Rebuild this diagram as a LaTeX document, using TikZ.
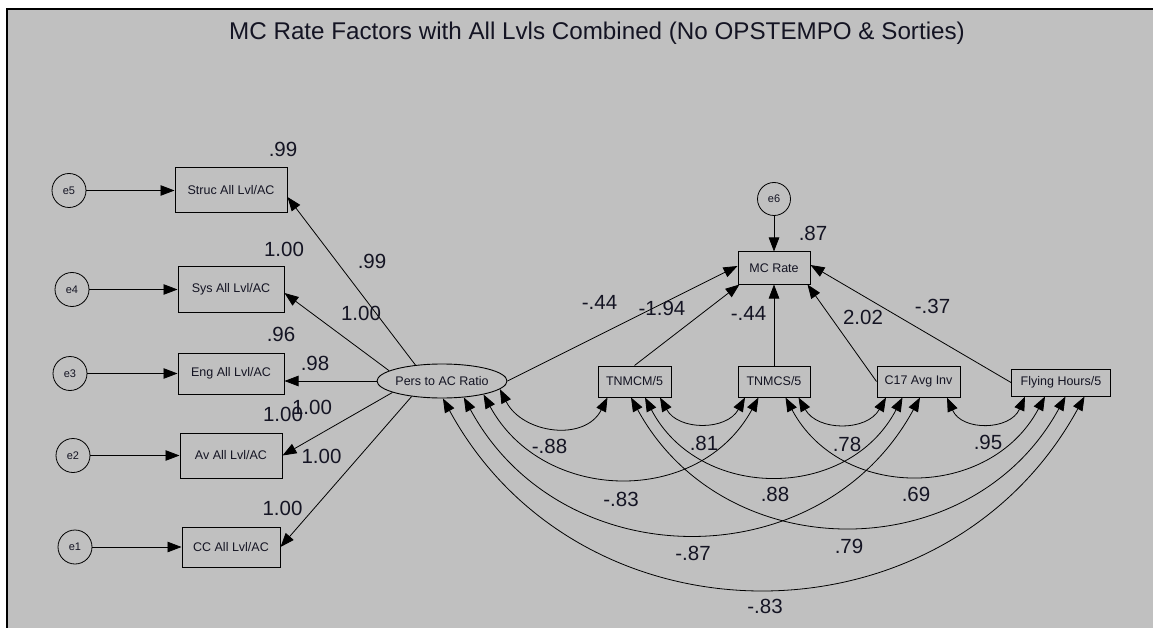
\documentclass[tikz,border=0pt]{standalone}
\usepackage{fontspec}
\setmainfont{Liberation Sans}
\usetikzlibrary{arrows.meta,calc,shapes.geometric}
\definecolor{amosgray}{RGB}{192,192,192}
\definecolor{ink}{RGB}{20,20,35}
\begin{document}
\begin{tikzpicture}[x=1pt,y=-1pt,
  obs/.style={draw=black, line width=1pt, rectangle, inner sep=0pt, text=ink, font=\fontsize{12.5}{14}\selectfont},
  err/.style={draw=black, circle, line width=0.8pt, minimum size=34pt, inner sep=0pt, text=ink, font=\fontsize{11}{12}\selectfont},
  lat/.style={draw=black, ellipse, line width=0.9pt, minimum width=130pt, minimum height=34pt, inner xsep=-1.5pt, inner ysep=0pt, text=ink, font=\fontsize{12.5}{14}\selectfont},
  pth/.style={line width=0.8pt, -{Triangle[length=14pt,width=10.5pt]}},
  cov/.style={line width=0.8pt, {Triangle[length=14pt,width=10.5pt]}-{Triangle[length=14pt,width=10.5pt]}},
  lab/.style={anchor=base, inner sep=0pt, text=ink, font=\fontsize{20.5}{22}\selectfont},
]
\useasboundingbox (0,0) rectangle (1153,628);
\fill[white] (0,0) rectangle (1153,628);
\fill[amosgray] (6.7,9) rectangle (1153,628);
\draw[line width=2pt] (6.7,628) -- (6.7,9) -- (1153,9);

% title
\node[anchor=base, inner sep=0pt, text=ink, font=\fontsize{24.2}{28}\selectfont] (title) at (597,39.3) {MC Rate Factors with All Lvls Combined (No OPSTEMPO \& Sorties)};

% indicators
\node[obs, minimum width=112pt, minimum height=45pt] (struc) at (231,190.5) {Struc All Lvl/AC};
\node[obs, minimum width=106pt, minimum height=45pt] (sys) at (231,289.5) {Sys All Lvl/AC};
\node[obs, minimum width=106pt, minimum height=41pt] (eng) at (231,373.5) {Eng All Lvl/AC};
\node[obs, minimum width=102pt, minimum height=45pt] (av) at (231,455.5) {Av All Lvl/AC};
\node[obs, minimum width=98pt, minimum height=40pt] (cc) at (231,547) {CC All Lvl/AC};

% errors
\node[err] (e5) at (69,190.5) {e5};
\node[err] (e4) at (72,289.5) {e4};
\node[err] (e3) at (70,373.5) {e3};
\node[err] (e2) at (73,455.5) {e2};
\node[err] (e1) at (75,547) {e1};
\node[err, minimum size=33pt] (e6) at (774,199) {e6};

% latent
\node[lat] (pers) at (442,381) {Pers to AC Ratio};

% right side
\node[obs, minimum width=72pt, minimum height=32pt] (mcrate) at (774,268) {MC Rate};
\node[obs, minimum width=73pt, minimum height=31pt] (tnmcm) at (634.5,381.5) {TNMCM/5};
\node[obs, minimum width=72pt, minimum height=31pt] (tnmcs) at (774,381.5) {TNMCS/5};
\node[obs, minimum width=83pt, minimum height=31pt] (c17) at (918.5,381.5) {C17 Avg Inv};
\node[obs, minimum width=99pt, minimum height=27pt] (fh) at (1061,382.5) {Flying Hours/5};

% error arrows
\draw[pth] (e5) -- (struc);
\draw[pth] (e4) -- (sys);
\draw[pth] (e3) -- (eng);
\draw[pth] (e2) -- (av);
\draw[pth] (e1) -- (cc);
\draw[pth] (e6) -- (mcrate);

% loadings
\draw[pth] (pers.149) -- ([yshift=-6.5pt]struc.east);
\draw[pth] (pers.169) -- ([yshift=-3.5pt]sys.east);
\draw[pth] (pers.west) -- (pers.west -| eng.east);
\draw[pth] (pers.193) -- (av.east);
\draw[pth] (pers.207) -- (cc.east);

% regressions
\draw[pth] (pers.east) -- ([yshift=2pt]mcrate.west);
\draw[pth] (tnmcm.north) -- ([xshift=2pt]mcrate.south west);
\draw[pth] (tnmcs) -- (mcrate);
\draw[pth] (c17.west) -- ([xshift=-3pt]mcrate.south east);
\draw[pth] (fh.west) -- ([yshift=3pt]mcrate.east);

% covariances
\draw[cov] (pers.-8.7) .. controls +(22.5,44.6) and +(-22.5,44.6) .. ([xshift=-27pt]tnmcm.south);
\draw[cov] ([xshift=25.5pt]tnmcm.south) .. controls +(18.5,33.3) and +(-18.5,33.3) .. ([xshift=-29pt]tnmcs.south);
\draw[cov] ([xshift=24.5pt]tnmcs.south) .. controls +(19.2,34) and +(-19.2,34) .. ([xshift=-32.5pt]c17.south);
\draw[cov] ([xshift=28.5pt]c17.south) .. controls +(14.9,34) and +(-14.9,34) .. ([xshift=-36pt]fh.south);
\draw[cov] (pers.-18.5) .. controls +(59.6,109.3) and +(-59.6,109.3) .. ([xshift=-15.5pt]tnmcs.south);
\draw[cov] ([xshift=10.5pt]tnmcm.south) .. controls +(54.4,104) and +(-54.4,104) .. ([xshift=-16pt]c17.south);
\draw[cov] ([xshift=11.5pt]tnmcs.south) .. controls +(55.3,104) and +(-55.3,104) .. ([xshift=-16pt]fh.south);
\draw[cov] (pers.-37.5) .. controls +(98.4,181.3) and +(-98.4,181.3) .. ([xshift=1.5pt]c17.south);
\draw[cov] ([xshift=-3.5pt]tnmcm.south) .. controls +(93.8,172) and +(-93.8,172) .. ([xshift=4.5pt]fh.south);
\draw[cov] (pers.-87) .. controls +(138.6,254) and +(-138.6,254) .. ([xshift=23.5pt]fh.south);

% labels
\node[lab] (r1) at (283,156.5) {.99};
\node[lab] (r2) at (284,256.5) {1.00};
\node[lab] (r3) at (281,341.5) {.96};
\node[lab] (r4) at (283,421.5) {1.00};
\node[lab] (r5) at (282.5,515) {1.00};
\node[lab] (w1) at (372,268.5) {.99};
\node[lab] (w2) at (361,320) {1.00};
\node[lab] (w3) at (315,370) {.98};
\node[lab] (w4) at (312,414) {1.00};
\node[lab] (w5) at (321.5,463) {1.00};
\node[lab] (r6) at (813,240.5) {.87};
\node[lab] (b1) at (599.5,309) {-.44};
\node[lab] (b2) at (662,315) {-1.94};
\node[lab] (b3) at (748.5,320.5) {-.44};
\node[lab] (b4) at (863,324) {2.02};
\node[lab] (b5) at (932.5,313) {-.37};
\node[lab] (c1) at (549.5,453) {-.88};
\node[lab] (c2) at (704,450) {.81};
\node[lab] (c3) at (847,451) {.78};
\node[lab] (c4) at (988,449) {.95};
\node[lab] (c5) at (621,506) {-.83};
\node[lab] (c6) at (775,501.5) {.88};
\node[lab] (c7) at (916,501.5) {.69};
\node[lab] (c8) at (693,560) {-.87};
\node[lab] (c9) at (849,553) {.79};
\node[lab] (c10) at (765,613) {-.83};
\end{tikzpicture}
\end{document}
